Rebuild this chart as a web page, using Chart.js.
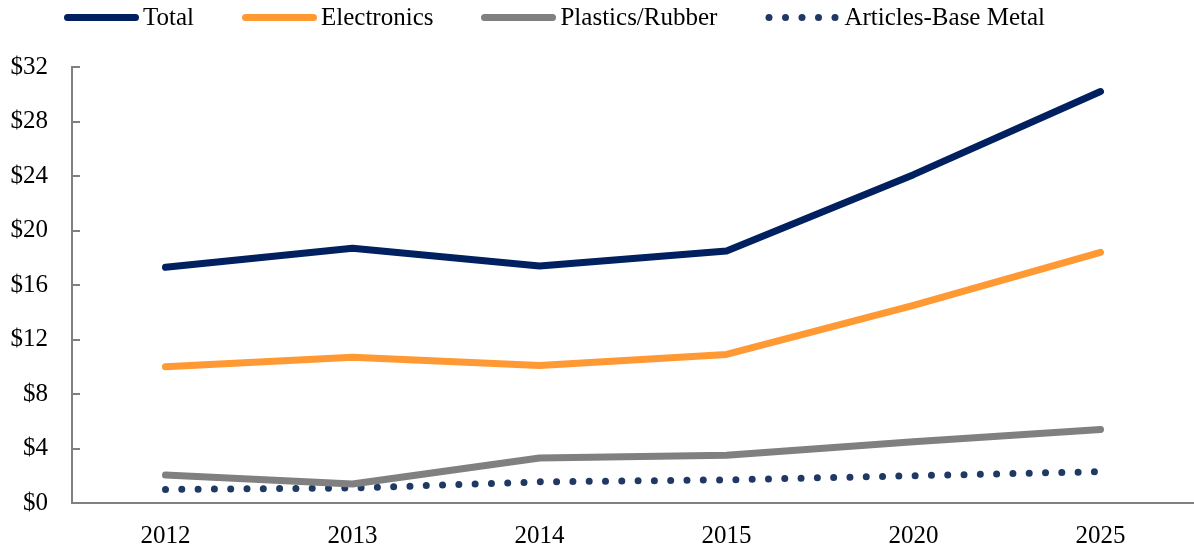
<!DOCTYPE html>
<html>
<head>
<meta charset="utf-8">
<script src="https://cdn.jsdelivr.net/npm/chart.js@4"></script>
<style>
    html, body { margin: 0; padding: 0; background: #fff; }
    #wrap { position: relative; width: 1194px; height: 550px; }
    #legend {
        position: absolute; top: 2px; left: 64px;
        display: flex; align-items: center; gap: 48px;
        font-family: "Liberation Serif", serif; font-size: 25px; line-height: 30px; color: #000;
        white-space: nowrap;
    }
    .item { display: flex; align-items: center; gap: 4px; }
    .swatch { width: 75px; height: 0; border-top: 7px solid; border-radius: 4px; }
    .dots { width: 75px; height: 7px; }
</style>
</head>
<body>
<div id="wrap">
    <canvas id="chart" width="1194" height="550"></canvas>
    <div id="legend"></div>
</div>
<script>
const years = ['2012', '2013', '2014', '2015', '2020', '2025'];
const total = [17.3, 18.7, 17.4, 18.5, 24.1, 30.2];
const electronics = [10.0, 10.7, 10.1, 10.9, 14.5, 18.4];
const plastics = [2.05, 1.4, 3.3, 3.5, 4.5, 5.4];
const articles = [1.0, 1.1, 1.55, 1.7, 2.0, 2.3];

const fontFamily = '"Liberation Serif", serif';

const series = [
    { label: 'Total', data: total, color: '#002060', dotted: false },
    { label: 'Electronics', data: electronics, color: '#FF9933', dotted: false },
    { label: 'Plastics/Rubber', data: plastics, color: '#808080', dotted: false },
    { label: 'Articles-Base Metal', data: articles, color: '#1F3864', dotted: true }
];

// html legend, so the dotted sample can be drawn as round dots
const legend = document.getElementById('legend');
series.forEach(s => {
    const item = document.createElement('div');
    item.className = 'item';
    let sw;
    if (s.dotted) {
        sw = document.createElement('canvas');
        sw.className = 'dots';
        sw.width = 75; sw.height = 7;
        const c = sw.getContext('2d');
        c.fillStyle = s.color;
        for (let i = 0; i < 5; i++) {
            c.beginPath();
            c.arc(4 + i * 16.5, 3.5, 3.5, 0, Math.PI * 2);
            c.fill();
        }
    } else {
        sw = document.createElement('div');
        sw.className = 'swatch';
        sw.style.borderColor = s.color;
    }
    const txt = document.createElement('span');
    txt.textContent = s.label;
    item.appendChild(sw);
    item.appendChild(txt);
    legend.appendChild(item);
});

new Chart(document.getElementById('chart'), {
    type: 'line',
    data: {
        labels: years,
        datasets: series.map(s => ({
            label: s.label,
            data: s.data,
            borderColor: s.color,
            backgroundColor: s.color,
            borderWidth: 7,
            borderCapStyle: 'round',
            borderJoinStyle: 'round',
            borderDash: s.dotted ? [0, 16.3] : [],
            pointRadius: 0,
            tension: 0
        }))
    },
    options: {
        responsive: false,
        animation: false,
        layout: { padding: { top: 67, left: 0, right: 0, bottom: 0 } },
        plugins: {
            legend: { display: false },
            tooltip: { enabled: false }
        },
        scales: {
            x: {
                offset: true,
                grid: { display: false, drawTicks: false },
                border: { display: true, color: '#808080', width: 2 },
                ticks: {
                    color: '#000',
                    padding: 18,
                    font: { family: fontFamily, size: 25 }
                },
                afterFit: scale => { scale.height = 47; }
            },
            y: {
                min: 0,
                max: 32,
                grid: { drawOnChartArea: false, drawTicks: true, tickLength: -8, color: '#808080', lineWidth: 2 },
                border: { display: true, color: '#808080', width: 2 },
                ticks: {
                    stepSize: 4,
                    color: '#000',
                    padding: 32,
                    font: { family: fontFamily, size: 25 },
                    callback: v => '$' + v
                },
                afterFit: scale => { scale.width = 72; }
            }
        }
    }
});
</script>
</body>
</html>
